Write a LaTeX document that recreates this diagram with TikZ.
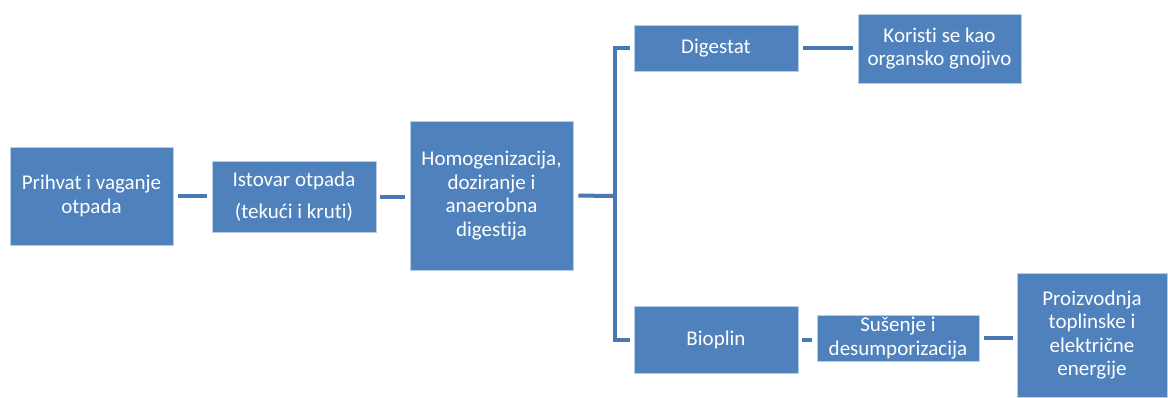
\documentclass[tikz,border=0pt]{standalone}
\usepackage{fontspec}
\setmainfont{Carlito}[Ligatures=NoCommon]
\definecolor{boxblue}{HTML}{4F81BD}
\definecolor{boxedge}{HTML}{B9CDE5}
\definecolor{linkblue}{HTML}{4A78B2}
\tikzset{
  stepbox/.style={rectangle, fill=boxblue, draw=boxedge, line width=0.8pt, text=white,
    inner sep=0pt, align=center, font=\fontsize{21}{23.5}\selectfont},
  link/.style={draw=linkblue, line width=4pt, line cap=butt, line join=miter},
}
\begin{document}
\begin{tikzpicture}[x=1pt,y=-1pt]
\useasboundingbox (0,0) rectangle (1168,397);
\node[stepbox, minimum width=163pt, minimum height=98pt] (b1) at (91.5,196) {Prihvat i vaganje\\otpada};
\node[stepbox, minimum width=164pt, minimum height=71pt] (b2) at (294,196.5) {Istovar otpada\\[9pt](tekući i kruti)};
\node[stepbox, minimum width=163pt, minimum height=149pt] (b3) at (491.5,195.5) {Homogenizacija,\\doziranje i\\anaerobna\\digestija};
\node[stepbox, minimum width=164pt, minimum height=46pt] (dig) at (716,48) {Digestat};
\node[stepbox, minimum width=163pt, minimum height=69pt] (kor) at (939.5,48.5) {Koristi se kao\\organsko gnojivo};
\node[stepbox, minimum width=164pt, minimum height=67pt] (bio) at (716,339.5) {Bioplin};
\node[stepbox, minimum width=162pt, minimum height=46pt] (sus) at (898,338) {Sušenje i\\desumporizacija};
\node[stepbox, minimum width=150pt, minimum height=124pt] (pro) at (1092,335) {Proizvodnja\\toplinske i\\električne\\energije};
\coordinate (bx) at (615,196);
\draw[link, shorten <=5pt, shorten >=5pt] (b1.east) -- (b1.east -| b2.west);
\draw[link, shorten <=4pt, shorten >=5pt] (b2.east) -- (b2.east -| b3.west);
\draw[link, shorten <=5pt] (b3.east) -- (bx);
\draw[link, shorten <=4pt, shorten >=4pt] (dig.west) -| (bx) |- (bio.west);
\draw[link, shorten <=5pt, shorten >=5pt] (dig.east) -- (dig.east -| kor.west);
\draw[link, shorten <=4pt, shorten >=5pt] (bio.east) -- (bio.east -| sus.west);
\draw[link, shorten <=5pt, shorten >=4pt] (sus.east) -- (sus.east -| pro.west);
\end{tikzpicture}
\end{document}
